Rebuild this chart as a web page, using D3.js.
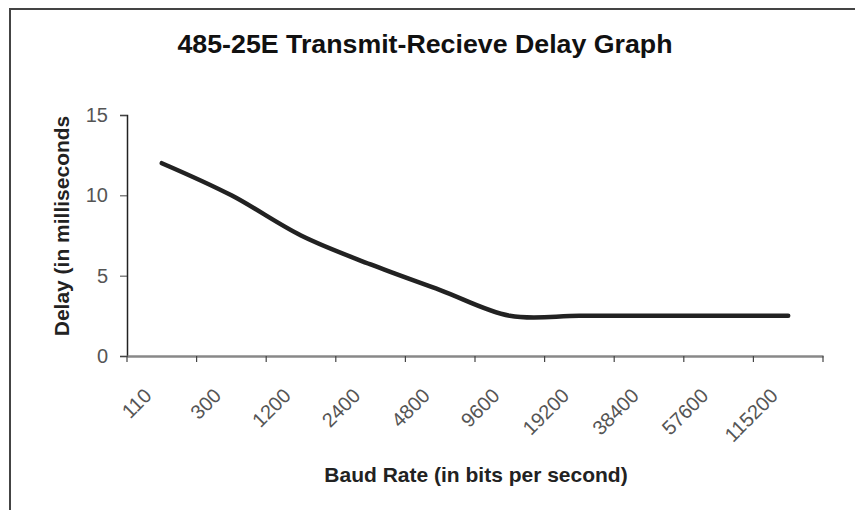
<!DOCTYPE html>
<html>
<head>
<meta charset="utf-8">
<script src="https://cdn.jsdelivr.net/npm/d3@7"></script>
<style>
  body { margin: 0; background: #fff; }
  svg { display: block; font-family: Arial, "Liberation Sans", sans-serif; }
</style>
</head>
<body>
<div id="chart"></div>
<script>
var baudRates = ["110", "300", "1200", "2400", "4800", "9600", "19200", "38400", "57600", "115200"];
var delayMs = [12, 10, 7.5, 5.7, 4.1, 2.5, 2.5, 2.5, 2.5, 2.5];
var yTicks = [0, 5, 10, 15];

var width = 855, height = 510;
var margin = {top: 115, right: 32, bottom: 154, left: 127};

var svg = d3.select("#chart").append("svg")
    .attr("width", width)
    .attr("height", height);

// outer frame (cut off on the right and bottom like the scan)
svg.append("rect")
    .attr("x", 10).attr("y", 9)
    .attr("width", 900).attr("height", 600)
    .attr("fill", "none")
    .attr("stroke", "#444")
    .attr("stroke-width", 2);

var x = d3.scaleBand()
    .domain(baudRates)
    .range([margin.left, width - margin.right])
    .padding(0);
var y = d3.scaleLinear()
    .domain([0, 15])
    .range([height - margin.bottom, margin.top]);

// title
svg.append("text")
    .attr("x", 425).attr("y", 53)
    .attr("text-anchor", "middle")
    .attr("font-size", 26)
    .attr("font-weight", "bold")
    .attr("fill", "#111")
    .attr("textLength", 495)
    .attr("lengthAdjust", "spacingAndGlyphs")
    .text("485-25E Transmit-Recieve Delay Graph");

// y axis
var yAxis = d3.axisLeft(y).tickValues(yTicks).tickSize(7).tickPadding(12);
var gy = svg.append("g")
    .attr("transform", "translate(" + margin.left + ",0)")
    .call(yAxis);
gy.select(".domain").attr("stroke", "#222").attr("stroke-width", 1.5);
gy.selectAll(".tick line").attr("stroke", "#444");
gy.selectAll(".tick text").attr("font-size", 20).attr("fill", "#555")
    .attr("font-family", "Arial, 'Liberation Sans', sans-serif");

// x axis: labels at category centres, ticks at category boundaries
var gx = svg.append("g")
    .attr("transform", "translate(0," + y(0) + ")")
    .call(d3.axisBottom(x).tickSize(0).tickPadding(0));
gx.select(".domain").attr("stroke", "#888").attr("stroke-width", 2.5);
gx.selectAll(".tick text")
    .attr("font-size", 20)
    .attr("fill", "#555")
    .attr("font-family", "Arial, 'Liberation Sans', sans-serif")
    .attr("text-anchor", "end")
    .attr("dy", 0)
    .attr("transform", "translate(-9,41) rotate(-45)");

var bounds = baudRates.map(function(d) { return x(d); });
bounds.push(x(baudRates[baudRates.length - 1]) + x.bandwidth());
gx.selectAll(".bound")
    .data(bounds)
    .enter().append("line")
    .attr("class", "bound")
    .attr("x1", function(d) { return d; })
    .attr("x2", function(d) { return d; })
    .attr("y1", 0).attr("y2", 6)
    .attr("stroke", "#444")
    .attr("stroke-width", 1.2);

// axis titles
svg.append("text")
    .attr("x", 476).attr("y", 482)
    .attr("text-anchor", "middle")
    .attr("font-size", 21)
    .attr("font-weight", "bold")
    .attr("fill", "#222")
    .text("Baud Rate (in bits per second)");

svg.append("text")
    .attr("transform", "translate(69," + 226 + ") rotate(-90)")
    .attr("text-anchor", "middle")
    .attr("font-size", 21)
    .attr("font-weight", "bold")
    .attr("fill", "#222")
    .text("Delay (in milliseconds");

// smoothed delay line
var line = d3.line()
    .x(function(d, i) { return x(baudRates[i]) + x.bandwidth() / 2; })
    .y(function(d) { return y(d); })
    .curve(d3.curveCatmullRom.alpha(0));

svg.append("path")
    .datum(delayMs)
    .attr("d", line)
    .attr("fill", "none")
    .attr("stroke", "#222")
    .attr("stroke-width", 4.5)
    .attr("stroke-linecap", "round");
</script>
</body>
</html>
